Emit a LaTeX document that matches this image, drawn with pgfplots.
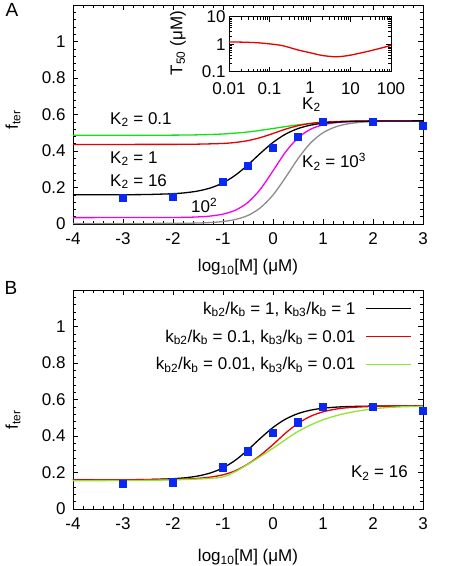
\documentclass[border=0pt]{standalone}
\usepackage{fontspec}
\setmainfont{Liberation Sans}
\usepackage{pgfplots}
\pgfplotsset{compat=1.18}
\definecolor{cgreen}{RGB}{20,225,20}
\definecolor{cyg}{RGB}{140,230,50}
\definecolor{cred}{RGB}{230,0,0}
\definecolor{cmag}{RGB}{240,0,240}
\definecolor{cgray}{RGB}{140,140,140}
\definecolor{cblue}{RGB}{10,40,240}
\newcommand{\sub}[1]{\textsubscript{#1}}
\newcommand{\sups}[1]{\textsuperscript{#1}}
\pgfplotsset{
  mainax/.style={
    scale only axis, width=350pt, height=219pt,
    xmin=-4, xmax=3, ymin=0, ymax=1.2,
    xtick={-4,-3,-2,-1,0,1,2,3}, xticklabels={-4,-3,-2,-1,0,1,2,3},
    ytick={0,0.2,0.4,0.6,0.8,1,1.2}, yticklabels={0,0.2,0.4,0.6,0.8,1,{}},
    minor x tick num=4, minor y tick num=4,
    tick align=inside, major tick length=5pt, minor tick length=3pt,
    tick style={black, line width=0.6pt},
    axis line style={line width=0.8pt},
    xticklabel style={yshift=-5pt},
    yticklabel style={xshift=-4pt},
    xlabel={log\sub{10}[M] (μM)},
    ylabel={f\sub{ter}},
    every axis plot/.append style={line width=1.3pt},
    clip=true,
  },
  sq/.style={only marks, mark=square*, mark size=3.6pt, color=cblue, mark options={draw=cblue, fill=cblue, line width=0pt}},
}
\pgfplotstableread{
x y
-4 0.160
-3 0.1605
-2.5 0.1617
-2 0.1661
-1.75 0.1713
-1.5 0.1809
-1.25 0.1976
-1 0.2254
-0.75 0.2679
-0.5 0.3245
-0.25 0.388
0 0.4468
0.25 0.4923
0.5 0.5229
0.75 0.5415
1 0.5522
1.25 0.558
1.5 0.5613
2 0.564
2.5 0.5648
3 0.565
}\blackcurve
\pgfplotstableread{
x y
-4 0.486
-3 0.4861
-2 0.4869
-1.5 0.4886
-1 0.4932
-0.5 0.5042
0 0.5233
0.5 0.5435
1 0.5562
1.5 0.5618
2 0.5639
3 0.565
}\greencurve
\pgfplotstableread{
x y
-4 0.436
-2 0.4364
-1.5 0.4376
-1 0.4414
-0.75 0.4469
-0.5 0.457
-0.25 0.4736
0 0.496
0.25 0.5196
0.5 0.5386
0.75 0.551
1 0.558
1.5 0.5634
2 0.5645
3 0.565
}\redcurve
\pgfplotstableread{
x y
-4 0.035
-2 0.0358
-1.5 0.0389
-1.25 0.0437
-1 0.0541
-0.75 0.0759
-0.5 0.1185
-0.25 0.1914
0 0.2914
0.25 0.394
0.5 0.472
0.75 0.519
1 0.5434
1.25 0.555
1.5 0.5605
2 0.564
3 0.565
}\magcurve
\pgfplotstableread{
x y
-4 0.003
-2 0.0035
-1.5 0.0054
-1.25 0.0081
-1 0.0136
-0.75 0.025
-0.5 0.047
-0.25 0.0893
0 0.1588
0.25 0.2547
0.5 0.358
0.75 0.4435
1 0.500
1.25 0.532
1.5 0.549
1.75 0.557
2 0.561
2.5 0.564
3 0.565
}\graycurve
\pgfplotstableread{
x y
-3 0.142
-2 0.148
-1 0.231
-0.5 0.319
0 0.418
0.5 0.476
1 0.560
2 0.560
3 0.539
}\dataA
\pgfplotstableread{
x y
-3 0.137
-2 0.145
-1 0.227
-0.5 0.315
0 0.416
0.5 0.474
1 0.560
2 0.560
3 0.538
}\dataB
\pgfplotstableread{
x y
-4 0.160
-3 0.1602
-2.5 0.1607
-2 0.1623
-1.75 0.1643
-1.5 0.1681
-1.25 0.175
-1 0.1873
-0.75 0.210
-0.5 0.247
-0.25 0.295
0 0.353
0.25 0.4158
0.5 0.469
0.75 0.508
1 0.5325
1.25 0.547
1.5 0.5553
2 0.5622
2.5 0.5643
3 0.565
}\redB
\pgfplotstableread{
x y
-4 0.155
-3 0.156
-2.5 0.157
-2 0.160
-1.5 0.164
-1.25 0.168
-1 0.176
-0.75 0.205
-0.5 0.245
-0.25 0.288
0 0.333
0.25 0.380
0.5 0.425
0.75 0.460
1 0.489
1.25 0.510
1.5 0.527
2 0.549
2.5 0.559
3 0.563
}\greenB
\pgfplotstableread{
x y
0.01 1.2
0.02 1.19
0.05 1.13
0.1 1.03
0.2 0.90
0.3 0.77
0.5 0.62
1 0.49
2 0.39
4 0.35
6 0.36
10 0.40
30 0.57
100 0.90
}\insetcurve
\begin{document}
\begin{tikzpicture}[font=\fontsize{17}{20}\selectfont]
\useasboundingbox (-73pt,-342pt) rectangle (377pt,224pt);
% Panel A
\begin{axis}[mainax, at={(0pt,0pt)}, anchor=south west,
  ylabel style={at={(axis description cs:-0.1714,0.475)}, anchor=center},
  xlabel style={at={(rel axis cs:0.5,0)}, anchor=north, yshift=-32pt}]
\addplot[cgreen, smooth] table {\greencurve};
\addplot[cred, smooth] table {\redcurve};
\addplot[cgray, smooth] table {\graycurve};
\addplot[cmag, smooth] table {\magcurve};
\addplot[black, smooth] table {\blackcurve};
\addplot[sq] table {\dataA};
\node[anchor=west, inner sep=0pt] at (axis cs:-3.26,0.573) {K\sub{2} = 0.1};
\node[anchor=west, inner sep=0pt] at (axis cs:-3.26,0.357) {K\sub{2} = 1};
\node[anchor=west, inner sep=0pt] at (axis cs:-3.26,0.232) {K\sub{2} = 16};
\node[anchor=west, inner sep=0pt] at (axis cs:-1.64,0.10) {10\sups{2}};
\node[anchor=west, inner sep=0pt] at (axis cs:0.58,0.654) {K\sub{2}};
\node[anchor=west, inner sep=0pt] at (axis cs:0.58,0.34) {K\sub{2} = 10\sups{3}};
\end{axis}
\node at (-61pt,214pt) {\fontsize{19}{22}\selectfont A};
% Inset
\begin{axis}[scale only axis, width=162pt, height=55pt, at={(156pt,152.3pt)}, anchor=south west,
  xmode=log, ymode=log, xmin=0.01, xmax=100, ymin=0.1, ymax=10,
  xtick={0.01,0.1,1,10,100}, xticklabels={0.01,0.1,1,10,100},
  ytick={0.1,1,10}, yticklabels={0.1,1,10},
  tick align=inside, major tick length=5pt, minor tick length=3pt,
  tick style={black, line width=0.6pt},
  axis line style={line width=0.8pt},
  xticklabel style={yshift=-7pt},
  axis background/.style={fill=white},
  ylabel={T\sub{50} (μM)},
  ylabel style={at={(axis description cs:-0.315,0.52)}, anchor=center}]
\addplot[cred, smooth, line width=1.3pt] table {\insetcurve};
\end{axis}
% Panel B
\begin{axis}[mainax, at={(0pt,-285pt)}, anchor=south west,
  ylabel style={at={(axis description cs:-0.1714,0.408)}, anchor=center},
  xlabel style={at={(rel axis cs:0.5,0)}, anchor=north, yshift=-37pt},
  legend plot pos=right,
  legend cell align=right,
  legend image code/.code={\draw[line width=1.3pt,#1] (0pt,0pt) -- (45pt,0pt);},
  legend style={draw=none, fill=none, at={(rel axis cs:0.977,0.965)}, anchor=north east,
    row sep=10pt, column sep=8pt, font=\fontsize{17}{20}\selectfont}]
\addplot[black, smooth] table {\blackcurve};
\addlegendentry{k\sub{b2}/k\sub{b} = 1, k\sub{b3}/k\sub{b} = 1}
\addplot[cred, smooth] table {\redB};
\addlegendentry{k\sub{b2}/k\sub{b} = 0.1, k\sub{b3}/k\sub{b} = 0.01}
\addplot[cyg, smooth] table {\greenB};
\addlegendentry{k\sub{b2}/k\sub{b} = 0.01, k\sub{b3}/k\sub{b} = 0.01}
\addplot[sq, forget plot] table {\dataB};
\node[anchor=east, inner sep=0pt] at (axis cs:2.7,0.198) {K\sub{2} = 16};
\end{axis}
\node at (-62pt,-64pt) {\fontsize{19}{22}\selectfont B};
\end{tikzpicture}
\end{document}
